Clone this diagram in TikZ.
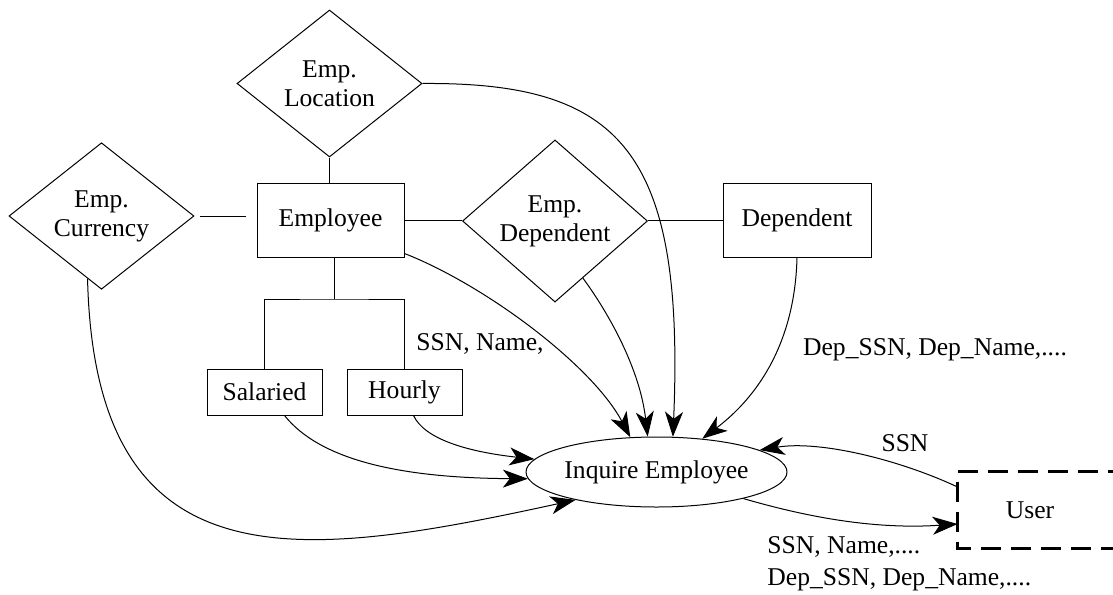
\documentclass[tikz,border=0pt]{standalone}
\usepackage{fontspec}
\setmainfont{Liberation Serif}
\usetikzlibrary{shapes.geometric,arrows.meta,calc}
\begin{document}
\begin{tikzpicture}[x=0.5pt,y=-0.5pt,
  every node/.style={font=\fontsize{12.8}{14.5}\selectfont, inner sep=0pt},
  thin line/.style={line width=0.5pt},
  entity/.style={draw, thin line, rectangle, minimum width=#1},
  rel/.style={draw, thin line, diamond, align=center, minimum width=92.5pt, minimum height=#1},
  conn/.style={thin line, -{Stealth[length=12.5pt,width=9pt,inset=3.5pt]}},
  userline/.style={line width=1.3pt, dash pattern=on 10pt off 5pt}
]
\useasboundingbox (0,0) rectangle (1113,594);
\clip (0,0) rectangle (1113,594);

% nodes
\node[rel=73.5pt] (loc) at (329.5,83.5) {Emp.\\Location};
\node[rel=73pt] (cur) at (101.5,216) {Emp.\\Currency};
\node[rel=75pt] (dd) at (555,221) {Emp.\\Dependent};
\node[entity=73.5pt, minimum height=37pt] (emp) at (330.5,220) {Employee};
\node[entity=74pt, minimum height=37pt] (dep) at (797,220) {Dependent};
\node[entity=57.5pt, minimum height=23pt] (sal) at (264.5,392) {Salaried};
\node[entity=57.5pt, minimum height=23pt] (hour) at (404.5,392) {Hourly};
\node[draw, thin line, ellipse, minimum width=130.5pt, minimum height=35pt] (ell) at (656.5,472) {Inquire Employee};
\node[minimum width=72pt, minimum height=38pt] (user) at (1030,510) {User};

% labels
\node (l1) at (480,344) {SSN, Name,};
\node (l2) at (935,350) {Dep\_SSN, Dep\_Name,....};
\node (l3) at (905,443) {SSN};
\node[anchor=west, align=left, font=\fontsize{12.8}{16}\selectfont] (l4) at (767,564) {SSN, Name,....\\Dep\_SSN, Dep\_Name,....};

% user box (open on the right)
\draw[userline] ($(user.north west)+(200,0)$) -- (user.north west) -- (user.south west) -- ++(200,0);

% plain relationship lines
\draw[thin line] (loc.south) -- (loc.south |- emp.north);
\draw[thin line] ($(cur.east)+(5,0)$) -- ($(cur.east -| emp.west)+(-11,0)$);
\draw[thin line] (emp.east) -- (dd.west |- emp.east);
\draw[thin line] (dd.east |- dep.west) -- (dep.west);
\coordinate (bar) at (334,299);
\draw[thin line] (emp.south -| bar) -- (bar);
\draw[thin line] (sal.north) |- (bar) -| (hour.north);

% data flows into Inquire Employee
\draw[conn] ($(emp.south east)+(0,-4)$) .. controls (485,285) and (592,365) .. (ell.127);
\draw[conn] ($(dd.south)!0.3!(dd.east)$) .. controls (610,315) and (640,370) .. (ell.104);
\draw[conn] (loc.east) .. controls (620,82) and (685,150) .. (ell.65);
\draw[conn] (dep.south) .. controls (795,340) and (760,395) .. (ell.36);
\draw[conn] ($(hour.south)+(9,0)$) .. controls (425,440) and (470,452) .. (ell.174);
\draw[conn] ($(sal.south)+(20,0)$) .. controls (320,460) and (400,478) .. (ell.183);
\draw[conn] ($(cur.south)!0.15!(cur.west)$) .. controls (95,590) and (300,560) .. (ell.-161);

% user interaction
\draw[conn] ($(user.west)+(0,-23)$) .. controls (900,460) and (820,440) .. (ell.12);
\draw[conn] (ell.-17) .. controls (800,515) and (870,530) .. ($(user.west)+(0,14)$);
\end{tikzpicture}
\end{document}
